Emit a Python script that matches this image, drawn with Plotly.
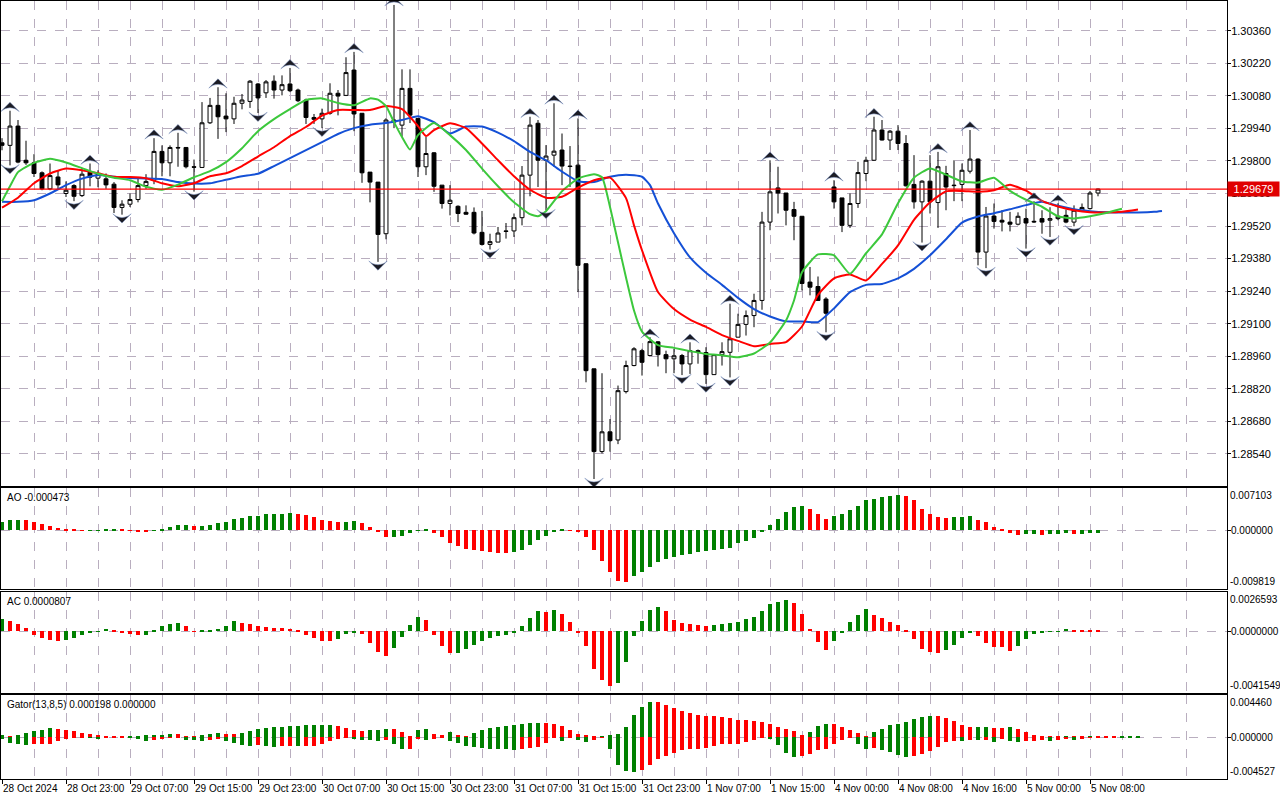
import plotly.graph_objects as go

# ---------------- data ----------------
time_labels = ["28 Oct 2024", "28 Oct 23:00", "29 Oct 07:00", "29 Oct 15:00", "29 Oct 23:00",
               "30 Oct 07:00", "30 Oct 15:00", "30 Oct 23:00", "31 Oct 07:00", "31 Oct 15:00",
               "31 Oct 23:00", "1 Nov 07:00", "1 Nov 15:00", "4 Nov 00:00", "4 Nov 08:00",
               "4 Nov 16:00", "5 Nov 00:00", "5 Nov 08:00"]
label_every = 8

open_ = [1.29878, 1.29867, 1.29950, 1.29803, 1.29792, 1.29749, 1.29680, 1.29731, 1.29660, 1.29694,
         1.29651, 1.29752, 1.29726, 1.29723, 1.29700, 1.29600, 1.29614, 1.29634, 1.29694, 1.29717,
         1.29841, 1.29792, 1.29858, 1.29858, 1.29775, 1.29772, 1.29964, 1.30039, 1.29993, 1.29981,
         1.30048, 1.30056, 1.30131, 1.30093, 1.30143, 1.30105, 1.30131, 1.30105, 1.30062, 1.29987,
         1.29981, 1.30005, 1.30091, 1.30082, 1.30191, 1.30005, 1.29752, 1.29709, 1.29487, 1.29976,
         1.29954, 1.30112, 1.29983, 1.29775, 1.29835, 1.29696, 1.29617, 1.29605, 1.29579, 1.29579,
         1.29493, 1.29441, 1.29451, 1.29499, 1.29499, 1.29556, 1.29739, 1.29962, 1.29803, 1.29825,
         1.29847, 1.29778, 1.29782, 1.29358, 1.28906, 1.28550, 1.28635, 1.28600, 1.28808, 1.28920,
         1.28984, 1.28963, 1.29022, 1.28967, 1.28949, 1.28963, 1.28927, 1.28984, 1.28976, 1.28881,
         1.28967, 1.28977, 1.29042, 1.29097, 1.29135, 1.29200, 1.29537, 1.29684, 1.29662, 1.29591,
         1.29562, 1.29279, 1.29260, 1.29206, 1.29688, 1.29641, 1.29523, 1.29617, 1.29746, 1.29803,
         1.29933, 1.29890, 1.29928, 1.29875, 1.29699, 1.29624, 1.29713, 1.29621, 1.29746, 1.29696,
         1.29699, 1.29756, 1.29808, 1.29408, 1.29563, 1.29545, 1.29537, 1.29528, 1.29552, 1.29537,
         1.29552, 1.29545, 1.29552, 1.29566, 1.29537, 1.29588, 1.29595, 1.29662]
high = [1.29898, 1.30016, 1.29976, 1.29887, 1.29829, 1.29755, 1.29789, 1.29760, 1.29712, 1.29700,
        1.29769, 1.29789, 1.29760, 1.29746, 1.29709, 1.29631, 1.29660, 1.29731, 1.29743, 1.29898,
        1.29867, 1.29867, 1.29921, 1.29859, 1.29806, 1.30053, 1.30071, 1.30117, 1.30091, 1.30076,
        1.30088, 1.30148, 1.30135, 1.30148, 1.30168, 1.30168, 1.30200, 1.30111, 1.30068, 1.30002,
        1.30025, 1.30134, 1.30105, 1.30246, 1.30269, 1.30006, 1.29752, 1.29709, 1.29984, 1.30471,
        1.30194, 1.30194, 1.29984, 1.29904, 1.29838, 1.29696, 1.29696, 1.29609, 1.29609, 1.29600,
        1.29585, 1.29487, 1.29516, 1.29533, 1.29574, 1.29778, 1.29990, 1.29976, 1.29868, 1.30048,
        1.29918, 1.29864, 1.29983, 1.29359, 1.28906, 1.28887, 1.28690, 1.28834, 1.28941, 1.28999,
        1.28992, 1.29042, 1.29025, 1.28984, 1.28992, 1.28970, 1.29020, 1.28989, 1.28999, 1.28970,
        1.29020, 1.29186, 1.29143, 1.29157, 1.29229, 1.29581, 1.29803, 1.29775, 1.29662, 1.29624,
        1.29562, 1.29344, 1.29303, 1.29214, 1.29717, 1.29641, 1.29660, 1.29796, 1.29818, 1.29990,
        1.29976, 1.29933, 1.29954, 1.29911, 1.29825, 1.29717, 1.29825, 1.29839, 1.29779, 1.29803,
        1.29789, 1.29933, 1.29811, 1.29602, 1.29617, 1.29588, 1.29581, 1.29579, 1.29595, 1.29627,
        1.29588, 1.29601, 1.29618, 1.29591, 1.29609, 1.29617, 1.29671, 1.29681]
low = [1.29846, 1.29781, 1.29790, 1.29783, 1.29731, 1.29674, 1.29674, 1.29677, 1.29645, 1.29627,
       1.29645, 1.29691, 1.29687, 1.29680, 1.29576, 1.29569, 1.29602, 1.29622, 1.29680, 1.29700,
       1.29734, 1.29734, 1.29775, 1.29768, 1.29668, 1.29772, 1.29959, 1.29895, 1.29924, 1.29959,
       1.30022, 1.30028, 1.30006, 1.30071, 1.30068, 1.30082, 1.30096, 1.30053, 1.29959, 1.29959,
       1.29941, 1.29999, 1.29996, 1.30079, 1.29928, 1.29706, 1.29622, 1.29366, 1.29463, 1.29941,
       1.29904, 1.29963, 1.29731, 1.29739, 1.29667, 1.29595, 1.29566, 1.29537, 1.29569, 1.29484,
       1.29436, 1.29419, 1.29451, 1.29466, 1.29473, 1.29523, 1.29648, 1.29688, 1.29588, 1.29775,
       1.29696, 1.29688, 1.29236, 1.28848, 1.28432, 1.28542, 1.28550, 1.28582, 1.28800, 1.28917,
       1.28877, 1.28963, 1.28916, 1.28887, 1.28887, 1.28879, 1.28884, 1.28928, 1.28841, 1.28881,
       1.28920, 1.28869, 1.29042, 1.29049, 1.29085, 1.29160, 1.29502, 1.29574, 1.29523, 1.29459,
       1.29243, 1.29222, 1.29198, 1.29063, 1.29595, 1.29494, 1.29512, 1.29598, 1.29713, 1.29800,
       1.29888, 1.29847, 1.29847, 1.29690, 1.29595, 1.29449, 1.29574, 1.29512, 1.29588, 1.29627,
       1.29627, 1.29746, 1.29351, 1.29339, 1.29509, 1.29497, 1.29497, 1.29523, 1.29423, 1.29533,
       1.29487, 1.29473, 1.29545, 1.29532, 1.29519, 1.29586, 1.29591, 1.29648]
close = [1.29867, 1.29950, 1.29795, 1.29792, 1.29746, 1.29680, 1.29737, 1.29697, 1.29674, 1.29648,
         1.29743, 1.29730, 1.29743, 1.29697, 1.29600, 1.29614, 1.29634, 1.29694, 1.29712, 1.29841,
         1.29792, 1.29858, 1.29856, 1.29775, 1.29773, 1.29964, 1.30039, 1.29990, 1.29981, 1.30048,
         1.30062, 1.30143, 1.30071, 1.30140, 1.30105, 1.30128, 1.30102, 1.30059, 1.29987, 1.29979,
         1.30005, 1.30091, 1.30079, 1.30180, 1.30002, 1.29749, 1.29709, 1.29484, 1.29976, 1.29967,
         1.30112, 1.29997, 1.29775, 1.29832, 1.29691, 1.29617, 1.29631, 1.29574, 1.29571, 1.29490,
         1.29441, 1.29453, 1.29490, 1.29497, 1.29556, 1.29739, 1.29954, 1.29803, 1.29821, 1.29842,
         1.29778, 1.29776, 1.29351, 1.28898, 1.28550, 1.28635, 1.28597, 1.28812, 1.28920, 1.28992,
         1.28934, 1.29023, 1.28967, 1.28949, 1.28962, 1.28927, 1.28984, 1.28976, 1.28881, 1.28967,
         1.28980, 1.29035, 1.29097, 1.29135, 1.29200, 1.29537, 1.29667, 1.29662, 1.29588, 1.29562,
         1.29273, 1.29257, 1.29200, 1.29145, 1.29624, 1.29523, 1.29617, 1.29750, 1.29803, 1.29933,
         1.29890, 1.29928, 1.29875, 1.29693, 1.29624, 1.29713, 1.29624, 1.29775, 1.29688, 1.29694,
         1.29760, 1.29808, 1.29408, 1.29563, 1.29540, 1.29537, 1.29528, 1.29562, 1.29533, 1.29540,
         1.29537, 1.29552, 1.29562, 1.29537, 1.29588, 1.29600, 1.29662, 1.29679]

fractal_up = [1, 11, 19, 22, 27, 36, 44, 49, 66, 69, 72, 81, 86, 91, 96, 104, 109, 117, 121, 129, 132]
fractal_down = [1, 9, 15, 24, 32, 40, 47, 61, 68, 74, 85, 88, 91, 103, 115, 123, 128, 131, 134]

# Alligator lines (bar index, price)
jaw_x = [0, 2, 4, 6, 8, 10, 12, 14, 16, 18, 20, 22, 24, 26, 28, 30, 32, 34, 36, 38, 40, 42, 44, 46, 48,
         50, 52, 54, 56, 58, 60, 62, 64, 66, 68, 70, 72, 74, 76, 78, 80, 81, 82, 84, 86, 88, 90, 92, 94,
         96, 98, 100, 102, 104, 106, 108, 110, 112, 114, 116, 118, 120, 122, 124, 126, 128, 130, 132,
         134, 136, 138, 140, 142, 144, 145]
jaw_y = [1.29624, 1.29624, 1.29631, 1.29660, 1.29696, 1.29724, 1.29739, 1.29732, 1.29727, 1.29725,
         1.29722, 1.29709, 1.29703, 1.29704, 1.29719, 1.29734, 1.29745, 1.29778, 1.29812, 1.29847,
         1.29881, 1.29916, 1.29941, 1.29956, 1.29963, 1.29976, 1.29992, 1.29967, 1.29918, 1.29948,
         1.29948, 1.29922, 1.29885, 1.29839, 1.29803, 1.29754, 1.29713, 1.29709, 1.29732, 1.29741,
         1.29732, 1.29696, 1.29617, 1.29489, 1.29385, 1.29319, 1.29267, 1.29211, 1.29163, 1.29131,
         1.29110, 1.29110, 1.29107, 1.29166, 1.29236, 1.29267, 1.29271, 1.29295, 1.29336, 1.29394,
         1.29463, 1.29535, 1.29561, 1.29575, 1.29592, 1.29610, 1.29624, 1.29607, 1.29592, 1.29584,
         1.29579, 1.29578, 1.29578, 1.29581, 1.29585]
teeth_x = [0, 2, 4, 6, 8, 10, 12, 14, 16, 18, 20, 22, 24, 26, 28, 30, 32, 34, 36, 38, 40, 42, 44, 46,
           48, 50, 52, 53, 54, 56, 58, 60, 62, 64, 66, 68, 70, 72, 74, 76, 78, 79, 80, 82, 84, 86, 88,
           90, 92, 94, 96, 98, 100, 102, 104, 106, 108, 110, 112, 114, 116, 118, 120, 122, 124, 126,
           128, 130, 132, 134, 136, 138, 140, 142]
teeth_y = [1.29599, 1.29642, 1.29704, 1.29746, 1.29767, 1.29760, 1.29747, 1.29732, 1.29731, 1.29726,
           1.29704, 1.29691, 1.29704, 1.29734, 1.29747, 1.29778, 1.29819, 1.29859, 1.29907, 1.29946,
           1.29995, 1.30019, 1.30019, 1.30019, 1.30036, 1.30023, 1.29950, 1.29907, 1.29933, 1.29962,
           1.29941, 1.29875, 1.29803, 1.29734, 1.29676, 1.29642, 1.29646, 1.29685, 1.29717, 1.29728,
           1.29640, 1.29523, 1.29416, 1.29236, 1.29163, 1.29118, 1.29086, 1.29051, 1.29026, 1.29003,
           1.29013, 1.29021, 1.29088, 1.29224, 1.29295, 1.29312, 1.29286, 1.29357, 1.29437, 1.29547,
           1.29622, 1.29669, 1.29671, 1.29668, 1.29674, 1.29698, 1.29672, 1.29628, 1.29604, 1.29588,
           1.29579, 1.29578, 1.29581, 1.29591]
lips_x = [0, 1, 2, 4, 6, 8, 10, 12, 14, 16, 18, 20, 22, 24, 26, 28, 30, 32, 34, 36, 38, 40, 42, 44,
          46, 47, 48, 49, 50, 51, 52, 54, 56, 58, 60, 62, 64, 66, 67, 68, 70, 72, 74, 75, 76, 77, 78,
          79, 80, 82, 84, 86, 88, 90, 92, 94, 96, 98, 99, 100, 102, 104, 106, 108, 110, 112, 114, 116,
          118, 120, 122, 124, 126, 128, 130, 132, 134, 136, 138, 140]
lips_y = [1.29627, 1.29691, 1.29752, 1.29792, 1.29809, 1.29793, 1.29769, 1.29745, 1.29728, 1.29717,
          1.29689, 1.29676, 1.29698, 1.29730, 1.29756, 1.29795, 1.29855, 1.29928, 1.29980, 1.30023,
          1.30062, 1.30069, 1.30049, 1.30040, 1.30069, 1.30064, 1.30036, 1.29967, 1.29903, 1.29849,
          1.29911, 1.29963, 1.29911, 1.29847, 1.29767, 1.29691, 1.29622, 1.29571, 1.29562, 1.29584,
          1.29670, 1.29724, 1.29743, 1.29730, 1.29602, 1.29450, 1.29299, 1.29157, 1.29066, 1.29008,
          1.28996, 1.28982, 1.28970, 1.28964, 1.28956, 1.28972, 1.29019, 1.29114, 1.29200, 1.29321,
          1.29398, 1.29394, 1.29315, 1.29403, 1.29484, 1.29618, 1.29728, 1.29768, 1.29741, 1.29712,
          1.29707, 1.29728, 1.29671, 1.29633, 1.29603, 1.29562, 1.29553, 1.29562, 1.29576, 1.29594]

# Awesome Oscillator
ao = [0.001340, 0.001682, 0.001796, 0.001739, 0.001397, 0.001055, 0.000713, 0.000428, 0.000200, 0.000080,
      0.000020, 0.000040, 0.000060, 0.000100, 0.000120, 0.000080, 0.000020, -0.000150, -0.000250, -0.000050,
      0.000080, 0.000600, 0.000880, 0.000900, 0.000780, 0.000800, 0.000950, 0.001230, 0.001450, 0.001910,
      0.002140, 0.002420, 0.002480, 0.002710, 0.002760, 0.002820, 0.002990, 0.002820, 0.002590, 0.002250,
      0.001790, 0.001510, 0.001450, 0.001480, 0.001570, 0.001230, 0.000600, -0.000310, -0.001170, -0.001150,
      -0.000940, -0.000370, -0.000050, 0.000200, -0.000480, -0.001170, -0.002140, -0.002590, -0.003110, -0.003220,
      -0.003450, -0.003620, -0.003730, -0.003760, -0.003560, -0.003280, -0.002420, -0.001570, -0.000940, -0.000200,
      0.000090, 0.000030, -0.000200, -0.001050, -0.003220, -0.005160, -0.007040, -0.008410, -0.008580, -0.007720,
      -0.007040, -0.006071, -0.005330, -0.004874, -0.004532, -0.004133, -0.003962, -0.003677, -0.003534, -0.003306,
      -0.003078, -0.002964, -0.002166, -0.001710, -0.001226, -0.000200, 0.000940, 0.001967, 0.003050, 0.003848,
      0.004076, 0.003620, 0.002765, 0.001967, 0.002366, 0.002708, 0.003335, 0.004019, 0.005045, 0.005216,
      0.005558, 0.005786, 0.005957, 0.005729, 0.005045, 0.003506, 0.002822, 0.002252, 0.002138, 0.002195,
      0.002252, 0.002366, 0.001796, 0.001340, 0.000542, 0.000086, -0.000371, -0.000827, -0.000660, -0.000600,
      -0.000720, -0.000660, -0.000620, -0.000500, -0.000600, -0.000550, -0.000500, -0.000473]
ao_labels = ["0.007103", "0.000000", "-0.009819"]

# Accelerator Oscillator
ac = [0.000819, 0.000679, 0.000491, 0.000211, -0.000211, -0.000445, -0.000585, -0.000679, -0.000585, -0.000445,
      -0.000211, -0.000047, -0.000023, 0.000140, 0.000070, -0.000070, -0.000187, -0.000234, -0.000211, 0.000070,
      0.000351, 0.000491, 0.000562, 0.000398, 0.000023, 0.000035, 0.000047, 0.000187, 0.000398, 0.000679,
      0.000538, 0.000527, 0.000351, 0.000281, 0.000257, 0.000211, 0.000140, 0.000070, -0.000234, -0.000445,
      -0.000632, -0.000679, -0.000515, -0.000164, -0.000047, -0.000164, -0.000749, -0.001381, -0.001661, -0.001100,
      -0.000398, 0.000421, 0.000959, 0.000772, -0.000211, -0.000983, -0.001474, -0.001451, -0.001170, -0.000913,
      -0.000632, -0.000445, -0.000281, -0.000211, -0.000047, 0.000374, 0.000936, 0.001357, 0.001334, 0.001474,
      0.001193, 0.000632, -0.000047, -0.000983, -0.002504, -0.003276, -0.003674, -0.003487, -0.002036, -0.000304,
      0.000702, 0.001474, 0.001615, 0.001404, 0.000772, 0.000585, 0.000491, 0.000421, 0.000398, 0.000410,
      0.000491, 0.000538, 0.000655, 0.000866, 0.001006, 0.001357, 0.001825, 0.002012, 0.002106, 0.001942,
      0.001193, 0.000140, -0.000702, -0.001240, -0.000632, -0.000047, 0.000608, 0.001123, 0.001544, 0.001123,
      0.000936, 0.000632, 0.000421, 0.000070, -0.000538, -0.001170, -0.001404, -0.001451, -0.001264, -0.000913,
      -0.000468, -0.000094, -0.000328, -0.000749, -0.001030, -0.001076, -0.001310, -0.000959, -0.000538, -0.000164,
      -0.000047, 0.000010, 0.000023, 0.000140, 0.000110, 0.000100, 0.000095, 0.0000807]
ac_labels = ["0.0026593", "0.0000000", "-0.0041549"]

# Gator oscillator (upper = |jaw-teeth|, lower = -|teeth-lips|), in millionths
gator_up = [289, 160, 289, 577, 825, 949, 1114, 1073, 949, 784, 536, 413, 289, 165, 144, 83, 165, 206, 248, 268,
            330, 413, 392, 206, 165, 289, 413, 536, 454, 413, 577, 784, 1073, 1196, 1279, 1320, 1423, 1444, 1485, 1506,
            1526, 1547, 1403, 1155, 908, 825, 846, 866, 1073, 1031, 660, 165, 949, 1073, 413, 289, 660, 289, 165, 536,
            908, 1155, 1279, 1403, 1526, 1650, 1753, 1774, 1753, 1650, 1403, 908, 413, 289, 165, 206, 248, 413, 1279, 2764,
            3754, 4373, 4352, 4001, 3630, 3259, 3011, 2764, 2681, 2640, 2516, 2393, 2186, 2145, 2021, 1898, 1650, 1279, 1031, 784,
            289, 660, 1403, 1650, 1629, 1279, 949, 536, 165, 660, 1031, 1526, 1650, 1898, 2269, 2516, 2640, 2619, 2393, 2021,
            1526, 1238, 1279, 1299, 1155, 1134, 1279, 1031, 660, 248, 165, 124, 103, 144, 124, 83, 144, 124, 103, 41,
            124, 165, 198]
gator_down = [248, 660, 866, 908, 887, 866, 784, 413, 165, 41, 21, 83, 103, 41, 21, 8, 83, 165, 413, 289,
              165, 83, 62, 289, 330, 413, 289, 165, 413, 660, 908, 1031, 1011, 1052, 1155, 1073, 1031, 1114, 1052, 1031,
              784, 413, 165, 41, 206, 289, 309, 413, 330, 784, 1485, 1403, 124, 289, 206, 41, 413, 660, 1031, 1155,
              1361, 1403, 1423, 1444, 1526, 1506, 1279, 1155, 660, 83, 413, 83, 289, 536, 289, 41, 1403, 3383, 4125, 4249,
              4001, 3383, 2640, 2269, 1898, 1526, 1423, 1403, 1279, 1031, 825, 804, 784, 536, 289, 83, 206, 908, 1898, 2393,
              2372, 2021, 1526, 1506, 784, 289, 41, 784, 1403, 1279, 1526, 1774, 2145, 2393, 2269, 2021, 1650, 1155, 536, 413,
              433, 289, 309, 289, 536, 165, 413, 536, 433, 413, 392, 413, 289, 268, 289, 165, 83, 41, 21, 10,
              83]
gator_scale = 1e-6
gator_labels = ["0.004460", "0.000000", "-0.004527"]
gator_title = "Gator(13,8,5) 0.000198 0.000000"

price_ticks = dict(tick0=1.28540, dtick=0.0014)

# ---------------- styling ----------------
GREEN = "#008000"
RED = "#FF0000"
GRID = "#B9AEBF"
FONT = "Liberation Sans"
FS = 10
FS_PRICE = 11

n = len(close)
idx = list(range(n))


def colors_for(vals):
    out = []
    for i, v in enumerate(vals):
        if i == 0:
            out.append(GREEN)
        else:
            out.append(GREEN if v > vals[i - 1] else RED)
    return out


fig = go.Figure()

# Candles
fig.add_trace(go.Candlestick(
    x=idx, open=open_, high=high, low=low, close=close,
    increasing=dict(line=dict(color="black", width=1), fillcolor="white"),
    decreasing=dict(line=dict(color="black", width=1), fillcolor="black"),
    whiskerwidth=0, xaxis="x", yaxis="y", hoverinfo="skip", showlegend=False))

# Alligator
for xs, ys, col in [(jaw_x, jaw_y, "#1450D6"), (teeth_x, teeth_y, "#FF0000"), (lips_x, lips_y, "#3CC83C")]:
    fig.add_trace(go.Scatter(x=xs, y=ys, mode="lines", xaxis="x", yaxis="y",
                             line=dict(color=col, width=2, shape="spline", smoothing=0.5),
                             hoverinfo="skip", showlegend=False))

# Fractals
off = 0.00036
fig.add_trace(go.Scatter(x=fractal_up, y=[high[i] + off for i in fractal_up], mode="markers",
                         xaxis="x", yaxis="y",
                         marker=dict(symbol="arrow-wide", angle=0, size=13, color="#1c1c24",
                                     line=dict(color="#6f86b8", width=0.5)),
                         hoverinfo="skip", showlegend=False))
fig.add_trace(go.Scatter(x=fractal_down, y=[low[i] - off for i in fractal_down], mode="markers",
                         xaxis="x", yaxis="y",
                         marker=dict(symbol="arrow-wide", angle=180, size=13, color="#1c1c24",
                                     line=dict(color="#6f86b8", width=0.5)),
                         hoverinfo="skip", showlegend=False))

# AO
fig.add_trace(go.Bar(x=idx, y=ao, marker=dict(color=colors_for(ao), line=dict(width=0)), width=0.5,
                     xaxis="x2", yaxis="y2", hoverinfo="skip", showlegend=False))
# AC
fig.add_trace(go.Bar(x=idx, y=ac, marker=dict(color=colors_for(ac), line=dict(width=0)), width=0.5,
                     xaxis="x3", yaxis="y3", hoverinfo="skip", showlegend=False))
# Gator
gu = [v * gator_scale for v in gator_up]
gd = [v * gator_scale for v in gator_down]
fig.add_trace(go.Bar(x=list(range(len(gu))), y=gu, marker=dict(color=colors_for(gu), line=dict(width=0)),
                     width=0.5, xaxis="x4", yaxis="y4", hoverinfo="skip", showlegend=False))
fig.add_trace(go.Bar(x=list(range(len(gd))), y=[-v for v in gd], marker=dict(color=colors_for(gd), line=dict(width=0)),
                     width=0.5, xaxis="x4", yaxis="y4", hoverinfo="skip", showlegend=False))

# ---------------- layout ----------------
tick_idx = [i * label_every for i in range(len(time_labels))]
minor_idx = [v + label_every // 2 for v in range(-label_every, 160, label_every)]
xr = [-0.125, 153.125]

domains = {
    "y": [0.37661, 1.0],
    "y2": [0.24422, 0.37404],
    "y3": [0.11054, 0.24036],
    "y4": [0.0, 0.10797],
}


def xaxis(anchor, bottom=False):
    d = dict(domain=[0, 1], anchor=anchor, range=xr, tickmode="array", tickvals=tick_idx,
             ticktext=time_labels if bottom else [""] * len(tick_idx),
             showgrid=True, gridcolor=GRID, griddash="dash", gridwidth=1,
             minor=dict(tickmode="array", tickvals=minor_idx, showgrid=True, gridcolor=GRID,
                        griddash="dash", gridwidth=1, ticks=""),
             showline=True, mirror=True, linecolor="black", linewidth=1,
             zeroline=False, fixedrange=True, tickangle=0,
             ticks="outside" if bottom else "", ticklen=4, tickcolor="black",
             tickfont=dict(family=FONT, size=FS, color="black"))
    if bottom:
        d["ticklabelposition"] = "outside right"
    if anchor != "y":
        d["matches"] = "x"
    return d


layout = dict(
    width=1280, height=800,
    margin=dict(l=1, r=53, t=1, b=21),
    paper_bgcolor="white", plot_bgcolor="white",
    showlegend=False, hovermode=False, barmode="overlay", bargap=0,
    font=dict(family=FONT, size=FS, color="black"),
    xaxis=xaxis("y"), xaxis2=xaxis("y2"), xaxis3=xaxis("y3"), xaxis4=xaxis("y4", bottom=True),
)
layout["xaxis"]["rangeslider"] = dict(visible=False)

layout["yaxis"] = dict(domain=domains["y"], anchor="x", side="right",
                       range=[1.28402, 1.304879], tickmode="linear",
                       tick0=price_ticks["tick0"], dtick=price_ticks["dtick"], tickformat=".5f",
                       showgrid=True, gridcolor=GRID, griddash="dash", zeroline=False,
                       showline=True, mirror=True, linecolor="black", linewidth=1,
                       ticks="outside", ticklen=3, tickcolor="black", fixedrange=True,
                       ticklabelstandoff=-2,
                       tickfont=dict(family=FONT, size=FS_PRICE, color="black"))


def sub_y(name, anchor, rng, zero_label):
    return dict(domain=domains[name], anchor=anchor, side="right", range=rng,
                tickmode="array", tickvals=[0], ticktext=[zero_label],
                showgrid=True, gridcolor=GRID, griddash="dash", zeroline=False,
                showline=True, mirror=True, linecolor="black", linewidth=1,
                ticks="outside", ticklen=3, tickcolor="black", fixedrange=True,
                ticklabelstandoff=-2,
                tickfont=dict(family=FONT, size=FS, color="black"))


ao_rng = [float(ao_labels[2]), float(ao_labels[0])]
ac_rng = [float(ac_labels[2]), float(ac_labels[0])]
layout["yaxis2"] = sub_y("y2", "x2", ao_rng, ao_labels[1])
layout["yaxis3"] = sub_y("y3", "x3", ac_rng, ac_labels[1])
layout["yaxis4"] = sub_y("y4", "x4", [-0.00516, 0.00524], gator_labels[1])

fig.update_layout(**layout)

# current price line + label
last = close[-1]
fig.add_shape(type="line", xref="x domain", yref="y", x0=0, x1=1, y0=last, y1=last,
              line=dict(color="#FF0000", width=1.2), layer="above")
fig.add_annotation(xref="paper", yref="y", x=1, y=last, xanchor="left", yanchor="middle",
                   xshift=0, text=f"{last:.5f}", showarrow=False, width=49,
                   font=dict(family=FONT, size=FS_PRICE, color="white"), bgcolor="#E00000",
                   borderpad=1)

# sub-window titles and range labels
titles = [("y2", f"AO {ao[-1]:.6f}", ao_labels), ("y3", f"AC {ac[-1]:.7f}", ac_labels),
          ("y4", gator_title, gator_labels)]
for yref, title, labs in titles:
    fig.add_annotation(xref="paper", yref=f"{yref} domain", x=0.003, y=1, xanchor="left", yanchor="top",
                       yshift=-2, text=title, showarrow=False,
                       font=dict(family=FONT, size=FS, color="black"))
    fig.add_annotation(xref="paper", yref=f"{yref} domain", x=1, y=1, xanchor="left", yanchor="top",
                       xshift=1, text=labs[0], showarrow=False,
                       font=dict(family=FONT, size=FS, color="black"))
    fig.add_annotation(xref="paper", yref=f"{yref} domain", x=1, y=0, xanchor="left", yanchor="bottom",
                       xshift=1, text=labs[2], showarrow=False,
                       font=dict(family=FONT, size=FS, color="black"))

fig.write_html("out.html", config={"displayModeBar": False},
               post_script="document.body.style.margin='0px';document.body.style.overflow='hidden';")
